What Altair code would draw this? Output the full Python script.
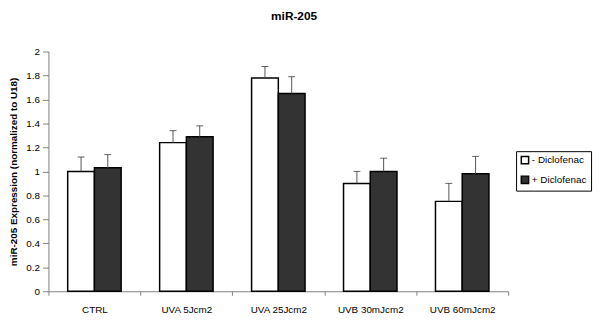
import altair as alt
import pandas as pd

categories = ["CTRL", "UVA 5Jcm2", "UVA  25Jcm2", "UVB 30mJcm2", "UVB 60mJcm2"]
series = ["- Diclofenac", "+ Diclofenac"]
minus_vals = [1.00, 1.24, 1.78, 0.90, 0.75]
plus_vals = [1.03, 1.29, 1.65, 1.00, 0.98]
minus_err = [0.12, 0.10, 0.095, 0.10, 0.15]
plus_err = [0.11, 0.09, 0.14, 0.11, 0.145]
y_ticks = [0, 0.2, 0.4, 0.6, 0.8, 1.0, 1.2, 1.4, 1.6, 1.8, 2.0]

rows = []
for i, c in enumerate(categories):
    rows.append({"cat": c, "series": series[0], "value": minus_vals[i], "top": minus_vals[i] + minus_err[i]})
    rows.append({"cat": c, "series": series[1], "value": plus_vals[i], "top": plus_vals[i] + plus_err[i]})
df = pd.DataFrame(rows)

x = alt.X("cat:N", sort=categories, title=None,
          scale=alt.Scale(paddingInner=0, paddingOuter=0),
          axis=alt.Axis(tickBand="extent", labelAngle=0, labelFont="Liberation Sans",
                        labelFontSize=10, labelColor="#000", domainColor="#808080",
                        tickColor="#808080", tickSize=4, labelPadding=10, grid=False,
                        labelOverlap=False))
xo = alt.XOffset("series:N", sort=series,
                 scale=alt.Scale(paddingInner=0, paddingOuter=0.72))

y_axis = alt.Axis(values=y_ticks, format=".1~f", labelFont="Liberation Sans", labelFontSize=10,
                  labelColor="#000", domainColor="#808080", tickColor="#808080", tickSize=6,
                  labelPadding=3, grid=False, labelOverlap=False, labelFlush=False,
                  title="miR-205 Expression (normalized to U18)",
                  titleFont="Liberation Sans", titleFontSize=10, titleFontWeight="bold",
                  titleColor="#000", titleAngle=-90, titleBaseline="middle",
                  titleX=-35.5, titleY=121.5, titleAlign="center")
y_scale = alt.Scale(domain=[0, 2], nice=False)

bars = alt.Chart(df).mark_bar(stroke="#000", strokeWidth=1.5).encode(
    x=x, xOffset=xo,
    y=alt.Y("value:Q", scale=y_scale, axis=y_axis),
    fill=alt.Color("series:N", sort=series,
                   scale=alt.Scale(domain=series, range=["#ffffff", "#333333"]),
                   legend=alt.Legend(title=None, orient="none", legendX=474, legendY=101,
                                     symbolType="square", symbolSize=55,
                                     symbolStrokeColor="#000", symbolStrokeWidth=1.5,
                                     labelFont="Liberation Sans", labelFontSize=10,
                                     labelColor="#000", strokeColor="#000", padding=4,
                                     rowPadding=6, labelOffset=2)),
)

err = alt.Chart(df).mark_rule(color="#555555", strokeWidth=1).encode(
    x=x, xOffset=xo, y=alt.Y("value:Q", scale=y_scale, axis=y_axis), y2="top:Q")
caps = alt.Chart(df).mark_tick(color="#222222", orient="horizontal", size=7, thickness=1).encode(
    x=x, xOffset=xo, y=alt.Y("top:Q", scale=y_scale, axis=y_axis))

chart = (bars + err + caps).properties(
    width=466, height=243,
    title=alt.TitleParams("miR-205", font="Liberation Sans", fontSize=12, fontWeight="bold",
                          color="#000", anchor="middle", dx=16, offset=24),
    autosize=alt.AutoSizeParams(type="none"),
    padding={"left": 41, "top": 42, "right": 88, "bottom": 27},
).configure_view(stroke=None)

chart.save("out.html", embed_options={"renderer": "svg", "actions": False})
